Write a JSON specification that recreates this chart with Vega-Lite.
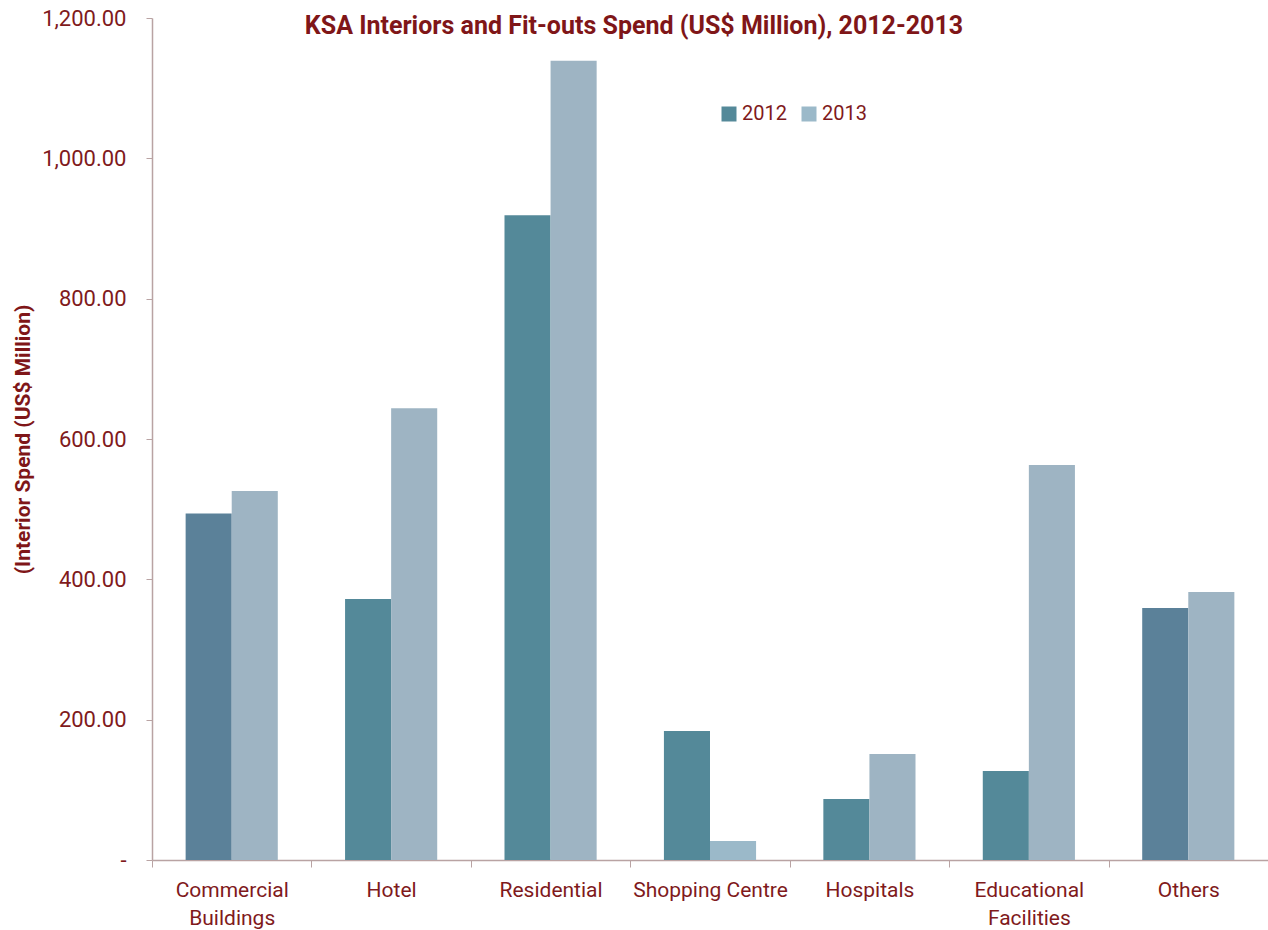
{
  "$schema": "https://vega.github.io/schema/vega-lite/v6.json",
  "width": 1116,
  "height": 842,
  "autosize": "none",
  "padding": {"left": 152, "top": 18, "right": 0, "bottom": 70},
  "background": "white",
  "title": {
    "text": "KSA Interiors and Fit-outs Spend (US$ Million), 2012-2013",
    "anchor": "middle",
    "frame": "group",
    "baseline": "top",
    "orient": "top",
    "offset": 0,
    "dx": -76,
    "dy": 32,
    "font": "Roboto, sans-serif",
    "fontSize": 25,
    "fontWeight": "bold",
    "color": "#7F1618"
  },
  "data": {
    "values": [
      {"category": "Commercial Buildings", "year": "2012", "spend": 494},
      {"category": "Commercial Buildings", "year": "2013", "spend": 526},
      {"category": "Hotel", "year": "2012", "spend": 372},
      {"category": "Hotel", "year": "2013", "spend": 644},
      {"category": "Residential", "year": "2012", "spend": 919},
      {"category": "Residential", "year": "2013", "spend": 1139},
      {"category": "Shopping Centre", "year": "2012", "spend": 184},
      {"category": "Shopping Centre", "year": "2013", "spend": 27},
      {"category": "Hospitals", "year": "2012", "spend": 87},
      {"category": "Hospitals", "year": "2013", "spend": 151},
      {"category": "Educational Facilities", "year": "2012", "spend": 127},
      {"category": "Educational Facilities", "year": "2013", "spend": 563},
      {"category": "Others", "year": "2012", "spend": 359},
      {"category": "Others", "year": "2013", "spend": 382}
    ]
  },
  "mark": {"type": "bar"},
  "encoding": {
    "x": {
      "field": "category",
      "type": "nominal",
      "sort": null,
      "scale": {"paddingInner": 0, "paddingOuter": 0},
      "axis": {
        "title": null,
        "labelAngle": 0,
        "tickBand": "extent",
        "tickSize": 7,
        "domainColor": "#B9A3A3",
        "tickColor": "#B9A3A3",
        "domainWidth": 1.5,
        "labelFont": "Roboto, sans-serif",
        "labelFontSize": 21,
        "labelColor": "#7F1A1C",
        "labelPadding": 12,
        "labelLineHeight": 28,
        "labelExpr": "datum.value == 'Commercial Buildings' ? ['Commercial', 'Buildings'] : datum.value == 'Educational Facilities' ? ['Educational', 'Facilities'] : datum.value"
      }
    },
    "xOffset": {
      "field": "year",
      "type": "nominal",
      "scale": {"paddingInner": 0, "paddingOuter": 0.73}
    },
    "y": {
      "field": "spend",
      "type": "quantitative",
      "scale": {"domain": [0, 1200], "nice": false},
      "axis": {
        "title": "(Interior Spend (US$ Million)",
        "titleFont": "Roboto, sans-serif",
        "titleFontSize": 21,
        "titleFontWeight": "bold",
        "titleColor": "#7F1618",
        "titlePadding": 8,
        "grid": false,
        "values": [0, 200, 400, 600, 800, 1000, 1200],
        "tickSize": 6,
        "domainColor": "#B9A3A3",
        "tickColor": "#B9A3A3",
        "domainWidth": 1.5,
        "labelFont": "Roboto, sans-serif",
        "labelFontSize": 22,
        "labelColor": "#7F1A1C",
        "labelPadding": 20,
        "labelExpr": "datum.value == 0 ? '-' : format(datum.value, ',.2f')",
        "encode": {
          "labels": {
            "update": {
              "dx": {"signal": "datum.value == 0 ? -9 : 0"}
            }
          }
        }
      }
    },
    "color": {
      "condition": [
        {"test": "(datum.category == 'Commercial Buildings' || datum.category == 'Others') && datum.year == '2012'", "value": "#5B8199"},
        {"test": "(datum.category == 'Commercial Buildings' || datum.category == 'Others' || datum.category == 'Hotel' || datum.category == 'Residential' || datum.category == 'Hospitals' || datum.category == 'Educational Facilities') && datum.year == '2013'", "value": "#9EB4C3"}
      ],
      "field": "year",
      "type": "nominal",
      "scale": {"domain": ["2012", "2013"], "range": ["#548999", "#9BB9C9"]},
      "legend": {
        "title": null,
        "orient": "none",
        "legendX": 567,
        "legendY": 86,
        "direction": "horizontal",
        "symbolType": "square",
        "symbolSize": 225,
        "symbolStrokeWidth": 0,
        "labelFont": "Roboto, sans-serif",
        "labelFontSize": 20,
        "labelColor": "#7F1A1C",
        "labelOffset": 3,
        "columnPadding": 12
      }
    }
  },
  "config": {
    "view": {"stroke": null}
  }
}
